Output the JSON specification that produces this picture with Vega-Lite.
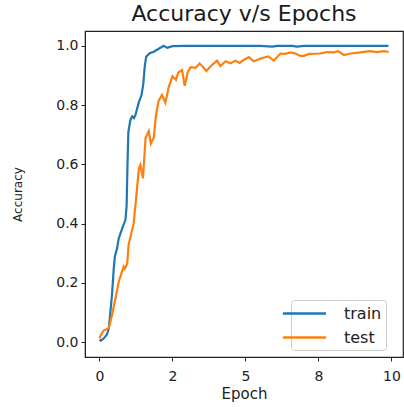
{
  "$schema": "https://vega.github.io/schema/vega-lite/v6.json",
  "autosize": "none",
  "padding": {"left": 85, "top": 31, "right": 1, "bottom": 50},
  "width": 318,
  "height": 326,
  "background": "white",
  "title": {"text": "Accuracy v/s Epochs", "font": "DejaVu Sans", "fontSize": 22, "fontWeight": "normal", "color": "#1a1a1a", "anchor": "middle", "offset": 5},
  "config": {
    "view": {"stroke": "#222222", "strokeWidth": 1.2},
    "axis": {"grid": false, "domainColor": "#222222", "tickColor": "#222222", "labelFont": "DejaVu Sans", "titleFont": "DejaVu Sans", "labelColor": "#222222", "titleColor": "#222222", "titleFontWeight": "normal", "tickSize": 4, "labelFontSize": 14}
  },
  "data": {"values": [
    {"epoch": 0.0, "accuracy": 0.008, "series": "train"},
    {"epoch": 0.05, "accuracy": 0.005, "series": "train"},
    {"epoch": 0.15, "accuracy": 0.013, "series": "train"},
    {"epoch": 0.25, "accuracy": 0.025, "series": "train"},
    {"epoch": 0.32, "accuracy": 0.045, "series": "train"},
    {"epoch": 0.43, "accuracy": 0.16, "series": "train"},
    {"epoch": 0.49, "accuracy": 0.25, "series": "train"},
    {"epoch": 0.53, "accuracy": 0.29, "series": "train"},
    {"epoch": 0.6, "accuracy": 0.315, "series": "train"},
    {"epoch": 0.66, "accuracy": 0.35, "series": "train"},
    {"epoch": 0.72, "accuracy": 0.367, "series": "train"},
    {"epoch": 0.8, "accuracy": 0.39, "series": "train"},
    {"epoch": 0.89, "accuracy": 0.412, "series": "train"},
    {"epoch": 0.93, "accuracy": 0.46, "series": "train"},
    {"epoch": 0.96, "accuracy": 0.6, "series": "train"},
    {"epoch": 0.99, "accuracy": 0.71, "series": "train"},
    {"epoch": 1.06, "accuracy": 0.75, "series": "train"},
    {"epoch": 1.12, "accuracy": 0.762, "series": "train"},
    {"epoch": 1.18, "accuracy": 0.756, "series": "train"},
    {"epoch": 1.23, "accuracy": 0.766, "series": "train"},
    {"epoch": 1.35, "accuracy": 0.81, "series": "train"},
    {"epoch": 1.44, "accuracy": 0.834, "series": "train"},
    {"epoch": 1.5, "accuracy": 0.87, "series": "train"},
    {"epoch": 1.55, "accuracy": 0.93, "series": "train"},
    {"epoch": 1.6, "accuracy": 0.963, "series": "train"},
    {"epoch": 1.72, "accuracy": 0.975, "series": "train"},
    {"epoch": 1.86, "accuracy": 0.98, "series": "train"},
    {"epoch": 2.03, "accuracy": 0.99, "series": "train"},
    {"epoch": 2.2, "accuracy": 1.0, "series": "train"},
    {"epoch": 2.32, "accuracy": 0.993, "series": "train"},
    {"epoch": 2.5, "accuracy": 0.999, "series": "train"},
    {"epoch": 2.95, "accuracy": 1.0, "series": "train"},
    {"epoch": 3.5, "accuracy": 1.0, "series": "train"},
    {"epoch": 4.0, "accuracy": 1.0, "series": "train"},
    {"epoch": 4.5, "accuracy": 1.0, "series": "train"},
    {"epoch": 5.0, "accuracy": 1.0, "series": "train"},
    {"epoch": 5.5, "accuracy": 1.0, "series": "train"},
    {"epoch": 5.91, "accuracy": 0.997, "series": "train"},
    {"epoch": 6.1, "accuracy": 1.0, "series": "train"},
    {"epoch": 6.6, "accuracy": 1.0, "series": "train"},
    {"epoch": 6.77, "accuracy": 0.997, "series": "train"},
    {"epoch": 7.0, "accuracy": 1.0, "series": "train"},
    {"epoch": 7.5, "accuracy": 1.0, "series": "train"},
    {"epoch": 8.0, "accuracy": 1.0, "series": "train"},
    {"epoch": 8.5, "accuracy": 1.0, "series": "train"},
    {"epoch": 9.0, "accuracy": 1.0, "series": "train"},
    {"epoch": 9.5, "accuracy": 1.0, "series": "train"},
    {"epoch": 9.9, "accuracy": 1.0, "series": "train"},
    {"epoch": 0.0, "accuracy": 0.013, "series": "test"},
    {"epoch": 0.09, "accuracy": 0.032, "series": "test"},
    {"epoch": 0.15, "accuracy": 0.04, "series": "test"},
    {"epoch": 0.32, "accuracy": 0.047, "series": "test"},
    {"epoch": 0.43, "accuracy": 0.092, "series": "test"},
    {"epoch": 0.55, "accuracy": 0.148, "series": "test"},
    {"epoch": 0.66, "accuracy": 0.204, "series": "test"},
    {"epoch": 0.77, "accuracy": 0.238, "series": "test"},
    {"epoch": 0.83, "accuracy": 0.255, "series": "test"},
    {"epoch": 0.87, "accuracy": 0.248, "series": "test"},
    {"epoch": 0.95, "accuracy": 0.265, "series": "test"},
    {"epoch": 1.0, "accuracy": 0.33, "series": "test"},
    {"epoch": 1.17, "accuracy": 0.4, "series": "test"},
    {"epoch": 1.26, "accuracy": 0.49, "series": "test"},
    {"epoch": 1.35, "accuracy": 0.585, "series": "test"},
    {"epoch": 1.4, "accuracy": 0.598, "series": "test"},
    {"epoch": 1.49, "accuracy": 0.553, "series": "test"},
    {"epoch": 1.58, "accuracy": 0.69, "series": "test"},
    {"epoch": 1.69, "accuracy": 0.712, "series": "test"},
    {"epoch": 1.76, "accuracy": 0.67, "series": "test"},
    {"epoch": 1.86, "accuracy": 0.69, "series": "test"},
    {"epoch": 1.94, "accuracy": 0.77, "series": "test"},
    {"epoch": 2.03, "accuracy": 0.815, "series": "test"},
    {"epoch": 2.14, "accuracy": 0.834, "series": "test"},
    {"epoch": 2.26, "accuracy": 0.808, "series": "test"},
    {"epoch": 2.37, "accuracy": 0.86, "series": "test"},
    {"epoch": 2.5, "accuracy": 0.897, "series": "test"},
    {"epoch": 2.62, "accuracy": 0.885, "series": "test"},
    {"epoch": 2.7, "accuracy": 0.91, "series": "test"},
    {"epoch": 2.83, "accuracy": 0.918, "series": "test"},
    {"epoch": 2.92, "accuracy": 0.865, "series": "test"},
    {"epoch": 3.02, "accuracy": 0.91, "series": "test"},
    {"epoch": 3.12, "accuracy": 0.928, "series": "test"},
    {"epoch": 3.29, "accuracy": 0.926, "series": "test"},
    {"epoch": 3.43, "accuracy": 0.94, "series": "test"},
    {"epoch": 3.57, "accuracy": 0.926, "series": "test"},
    {"epoch": 3.66, "accuracy": 0.915, "series": "test"},
    {"epoch": 3.86, "accuracy": 0.936, "series": "test"},
    {"epoch": 4.03, "accuracy": 0.95, "series": "test"},
    {"epoch": 4.14, "accuracy": 0.932, "series": "test"},
    {"epoch": 4.32, "accuracy": 0.948, "series": "test"},
    {"epoch": 4.49, "accuracy": 0.941, "series": "test"},
    {"epoch": 4.66, "accuracy": 0.95, "series": "test"},
    {"epoch": 4.8, "accuracy": 0.942, "series": "test"},
    {"epoch": 4.95, "accuracy": 0.953, "series": "test"},
    {"epoch": 5.12, "accuracy": 0.962, "series": "test"},
    {"epoch": 5.28, "accuracy": 0.948, "series": "test"},
    {"epoch": 5.55, "accuracy": 0.958, "series": "test"},
    {"epoch": 5.78, "accuracy": 0.964, "series": "test"},
    {"epoch": 5.97, "accuracy": 0.95, "series": "test"},
    {"epoch": 6.2, "accuracy": 0.974, "series": "test"},
    {"epoch": 6.37, "accuracy": 0.973, "series": "test"},
    {"epoch": 6.54, "accuracy": 0.978, "series": "test"},
    {"epoch": 6.71, "accuracy": 0.974, "series": "test"},
    {"epoch": 6.88, "accuracy": 0.966, "series": "test"},
    {"epoch": 7.0, "accuracy": 0.966, "series": "test"},
    {"epoch": 7.2, "accuracy": 0.973, "series": "test"},
    {"epoch": 7.55, "accuracy": 0.974, "series": "test"},
    {"epoch": 7.8, "accuracy": 0.979, "series": "test"},
    {"epoch": 8.02, "accuracy": 0.978, "series": "test"},
    {"epoch": 8.17, "accuracy": 0.982, "series": "test"},
    {"epoch": 8.37, "accuracy": 0.969, "series": "test"},
    {"epoch": 8.6, "accuracy": 0.974, "series": "test"},
    {"epoch": 8.94, "accuracy": 0.978, "series": "test"},
    {"epoch": 9.25, "accuracy": 0.982, "series": "test"},
    {"epoch": 9.51, "accuracy": 0.979, "series": "test"},
    {"epoch": 9.74, "accuracy": 0.982, "series": "test"},
    {"epoch": 9.9, "accuracy": 0.979, "series": "test"}
  ]},
  "mark": {"type": "line", "strokeWidth": 2.2, "clip": true},
  "encoding": {
    "x": {"field": "epoch", "type": "quantitative",
      "scale": {"domain": [-0.495, 10.395], "nice": false, "zero": false},
      "axis": {"title": "Epoch", "titleFontSize": 15, "values": [0, 2.5, 5, 7.5, 10], "labelExpr": "datum.value == 2.5 ? '2' : datum.value == 7.5 ? '8' : format(datum.value, 'd')", "labelPadding": 8, "titlePadding": 3, "labelFlush": false}},
    "y": {"field": "accuracy", "type": "quantitative",
      "scale": {"domain": [-0.05, 1.05], "nice": false, "zero": false},
      "axis": {"title": "Accuracy", "titleFontSize": 12, "values": [0, 0.2, 0.4, 0.6, 0.8, 1.0], "format": ".1f", "labelPadding": 3, "titlePadding": 31}},
    "color": {"field": "series", "type": "nominal",
      "scale": {"domain": ["train", "test"], "range": ["#1f77b4", "#ff7f0e"]},
      "legend": {"title": null, "orient": "none", "legendX": 206, "legendY": 269, "symbolType": "M-2.7,0H2.7", "symbolSize": 256, "symbolStrokeWidth": 2.5, "labelFontSize": 16, "labelFont": "DejaVu Sans", "labelColor": "#222222", "labelOffset": 30, "rowPadding": 6, "padding": 4, "strokeColor": "#cccccc", "fillColor": "white", "cornerRadius": 3, "columnPadding": 0}},
    "order": {"field": "epoch", "type": "quantitative"}
  }
}
